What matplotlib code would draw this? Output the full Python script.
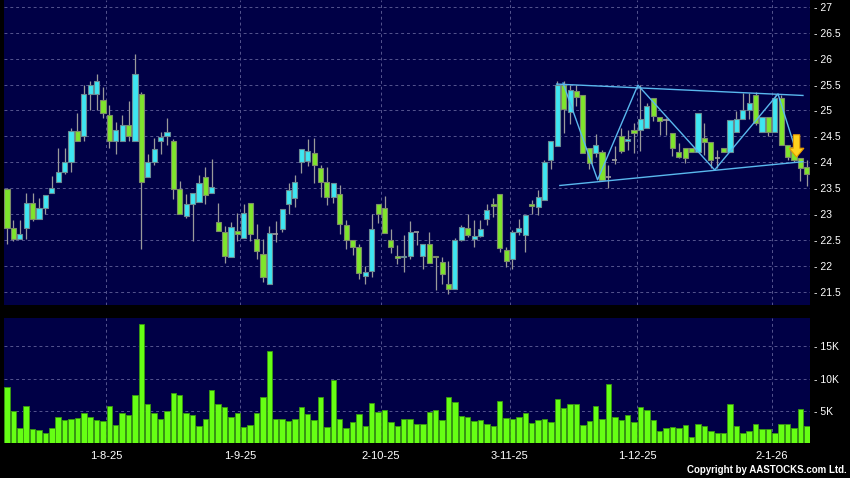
import numpy as np
import matplotlib
matplotlib.use('Agg')
import matplotlib.pyplot as plt
from matplotlib.patches import Polygon
from matplotlib.ticker import FuncFormatter

plt.rcParams['font.family'] = ['Liberation Sans', 'DejaVu Sans']

# daily OHLC
opens = [23.48, 22.72, 22.52, 22.72, 23.22, 22.91, 23.12, 23.41, 23.61, 23.82,
         24.00, 24.60, 24.51, 25.31, 25.31, 25.21, 24.91, 24.41, 24.41, 24.71,
         24.41, 25.32, 23.72, 24.00, 24.41, 24.51, 24.41, 23.48, 22.96, 23.20,
         23.24, 23.72, 23.40, 22.85, 22.66, 22.16, 22.67, 22.54, 23.22, 22.52,
         22.22, 21.65, 22.62, 22.70, 23.20, 23.30, 24.00, 24.02, 24.18, 23.88,
         23.62, 23.33, 23.39, 22.79, 22.49, 22.37, 21.80, 21.90, 23.20, 23.12,
         22.50, 22.18, 22.16, 22.19, 22.66, 22.19, 22.41, 22.19, 22.07, 21.64,
         21.54, 22.50, 22.72, 22.52, 22.58, 22.91, 23.20, 23.39, 22.31, 22.12,
         22.65, 22.59, 23.20, 23.13, 23.26, 24.05, 24.32, 25.50, 24.97, 25.37,
         25.29, 24.27, 24.17, 24.19, 23.72, 24.05, 24.50, 24.41, 24.63, 24.63,
         24.66, 25.24, 24.88, 24.82, 24.57, 24.20, 24.27, 24.27, 24.20, 24.46,
         24.40, 24.08, 24.27, 24.20, 24.59, 24.83, 25.01, 25.30, 24.59, 24.88,
         24.59, 25.24, 24.33, 24.30, 24.08, 23.90]
highs = [23.51, 22.88, 22.88, 23.41, 23.41, 23.31, 23.36, 23.73, 24.27, 24.27,
         24.67, 24.96, 25.50, 25.56, 25.71, 25.45, 25.10, 24.78, 24.91, 25.18,
         26.10, 25.35, 24.15, 24.46, 24.59, 24.86, 24.45, 23.64, 23.38, 23.41,
         23.75, 23.91, 24.06, 23.22, 22.77, 22.85, 23.02, 23.20, 23.22, 22.81,
         22.52, 22.77, 22.86, 23.10, 23.59, 23.75, 24.26, 24.44, 24.46, 23.94,
         23.90, 23.59, 23.55, 22.88, 22.49, 22.41, 22.00, 23.00, 23.20, 23.34,
         22.70, 22.40, 22.60, 22.86, 22.66, 22.41, 22.65, 22.19, 22.17, 22.10,
         22.54, 22.78, 23.00, 22.89, 22.89, 23.20, 23.30, 23.39, 22.36, 22.68,
         22.91, 22.97, 23.26, 23.47, 24.04, 24.41, 25.56, 25.56, 25.50, 25.50,
         25.29, 24.27, 24.55, 24.24, 23.95, 24.31, 24.66, 24.63, 24.76, 25.50,
         25.15, 25.24, 24.88, 24.85, 24.57, 24.37, 24.27, 24.27, 24.95, 24.75,
         24.40, 24.24, 24.27, 24.82, 24.98, 25.33, 25.33, 25.36, 24.88, 24.88,
         25.30, 25.30, 24.33, 24.53, 24.08, 24.04]
lows = [22.41, 22.47, 22.52, 22.52, 22.86, 22.91, 23.00, 23.41, 23.61, 23.77,
        23.82, 24.41, 24.41, 25.00, 25.00, 24.86, 24.27, 24.16, 24.41, 24.41,
        24.41, 22.32, 23.72, 23.95, 24.16, 24.33, 23.28, 23.00, 22.93, 22.47,
        23.24, 23.20, 23.40, 22.67, 22.06, 22.16, 22.47, 22.54, 22.47, 22.12,
        21.69, 21.65, 22.46, 22.65, 23.00, 23.13, 23.79, 23.92, 23.60, 23.33,
        23.17, 23.21, 22.62, 22.33, 22.20, 21.74, 21.64, 21.78, 22.83, 22.63,
        22.25, 22.04, 21.88, 22.12, 22.40, 21.94, 22.06, 21.53, 21.65, 21.45,
        21.54, 22.48, 22.55, 22.36, 22.55, 22.79, 22.94, 22.27, 21.98, 21.94,
        22.59, 22.27, 23.00, 22.97, 23.26, 23.86, 24.32, 24.57, 24.73, 25.08,
        24.17, 23.86, 24.10, 23.65, 23.50, 23.97, 24.18, 24.24, 24.18, 24.21,
        24.66, 24.79, 24.53, 24.53, 24.12, 24.08, 23.99, 24.20, 24.20, 24.14,
        23.88, 23.88, 24.20, 24.20, 24.59, 24.83, 24.83, 24.72, 24.59, 24.50,
        24.59, 24.33, 24.04, 24.01, 23.63, 23.54]
closes = [22.72, 22.52, 22.62, 23.22, 22.91, 23.12, 23.36, 23.51, 23.82, 24.00,
          24.60, 24.41, 25.31, 25.50, 25.56, 24.96, 24.41, 24.62, 24.71, 24.51,
          25.71, 23.62, 24.00, 24.26, 24.49, 24.59, 23.48, 23.00, 23.20, 23.41,
          23.59, 23.36, 23.53, 22.67, 22.18, 22.74, 22.62, 23.02, 22.61, 22.28,
          21.79, 22.64, 22.62, 23.10, 23.46, 23.62, 24.26, 24.22, 23.95, 23.62,
          23.33, 23.59, 22.81, 22.49, 22.36, 21.85, 21.88, 22.70, 23.00, 22.63,
          22.36, 22.15, 22.19, 22.65, 22.66, 22.41, 22.06, 22.16, 21.83, 21.54,
          22.50, 22.74, 22.60, 22.58, 22.70, 23.07, 23.15, 22.35, 22.10, 22.65,
          22.72, 22.97, 23.15, 23.33, 24.00, 24.41, 25.50, 25.03, 25.40, 25.26,
          24.17, 23.99, 24.33, 23.66, 23.72, 24.05, 24.21, 24.44, 24.57, 24.84,
          25.09, 24.90, 24.79, 24.82, 24.28, 24.11, 24.08, 24.20, 24.95, 24.40,
          24.04, 24.08, 24.20, 24.82, 24.83, 25.00, 25.15, 24.75, 24.88, 24.59,
          25.24, 24.33, 24.11, 24.04, 23.88, 23.77]

# volume in thousands
volume_k = [8.7, 4.9, 2.3, 5.8, 2.1, 2.0, 1.6, 2.3, 4.1, 3.6,
            3.8, 3.9, 4.7, 4.1, 3.6, 3.4, 5.8, 2.8, 4.6, 4.3,
            7.4, 18.5, 6.0, 4.7, 3.8, 4.9, 7.8, 7.4, 4.7, 4.3,
            2.7, 3.7, 8.2, 6.1, 5.6, 4.1, 4.7, 2.5, 2.8, 4.6,
            7.1, 14.3, 3.8, 3.7, 3.4, 3.7, 5.6, 4.5, 3.5, 7.1,
            2.5, 9.8, 3.8, 2.4, 3.2, 4.5, 2.6, 6.2, 4.8, 5.1,
            3.2, 2.6, 3.7, 3.7, 2.9, 2.9, 4.8, 5.1, 3.5, 7.1,
            6.4, 4.2, 4.0, 3.4, 3.5, 2.9, 2.7, 6.5, 3.9, 3.7,
            4.1, 4.7, 3.1, 3.5, 3.8, 3.2, 6.8, 5.5, 6.1, 6.1,
            2.8, 3.4, 5.7, 3.7, 9.1, 4.0, 3.5, 4.3, 3.2, 5.6,
            5.1, 3.6, 1.9, 2.3, 2.5, 2.4, 2.8, 1.0, 3.0, 2.7,
            1.9, 1.6, 1.6, 6.1, 2.6, 1.6, 1.8, 3.0, 2.2, 2.2,
            1.5, 2.9, 2.9, 2.4, 5.2, 2.7]

# month start markers (bar index) and labels
date_labels = ['1-8-25', '1-9-25', '2-10-25', '3-11-25', '1-12-25', '2-1-26']
date_pos = [15.5, 36.4, 58.4, 78.6, 98.5, 119.5]

# drawn pattern lines (bar index, price)
upper_x, upper_y = [85.9, 124.4], [25.51, 25.29]
lower_x, lower_y = [86.4, 124.4], [23.55, 24.01]
zigzag_x = [86.9, 92.3, 98.6, 110.6, 120.5, 123.1]
zigzag_y = [25.53, 23.66, 25.49, 23.85, 25.32, 24.30]

bg = '#000046'
grid_col = '#55558f'
cyan = '#3ee6f2'
green = '#7fe52c'

fig = plt.figure(figsize=(8.5, 4.78), dpi=100, facecolor='black')
ax1 = fig.add_axes([4/850, 1 - 305/478, 806/850, 305/478], facecolor=bg)
ax2 = fig.add_axes([4/850, 1 - 443/478, 806/850, 125/478], facecolor=bg)

o, h, l, c = map(np.array, (opens, highs, lows, closes))
x = np.arange(len(o))
up = c > o
dn = c < o
flat = c == o

# candles
ax1.vlines(x, l, h, color='#9a9a9a', lw=0.9, zorder=2)
ax1.bar(x[up], (c - o)[up], bottom=o[up], width=0.8, color=cyan,
        edgecolor='#6a8c94', lw=0.8, zorder=3)
ax1.bar(x[dn], (o - c)[dn], bottom=c[dn], width=0.8, color=green,
        edgecolor='#7d8c6a', lw=0.8, zorder=3)
ax1.hlines(o[flat], x[flat] - 0.4, x[flat] + 0.4, color='#a0a0a0', lw=1.2, zorder=3)

# pattern lines
line_col = '#5ab8ee'
ax1.plot(upper_x, upper_y, color=line_col, lw=1, zorder=4)
ax1.plot(lower_x, lower_y, color=line_col, lw=1, zorder=4)
ax1.plot(zigzag_x, zigzag_y, color=line_col, lw=1, zorder=4)

# down arrow signal
ax_x, top, base, tip = 123.4, 24.53, 24.27, 24.10
arrow = Polygon([(ax_x - 0.5, top), (ax_x + 0.5, top), (ax_x + 0.5, base),
                 (ax_x + 1.15, base), (ax_x, tip), (ax_x - 1.15, base),
                 (ax_x - 0.5, base)], closed=True, facecolor='#ffd21e',
                edgecolor='#e89a00', lw=0.8, zorder=5)
ax1.add_patch(arrow)

ax1.set_xlim(-0.47, 125.5)
ax1.set_ylim(21.24, 27.135)
ax1.set_yticks(np.arange(21.5, 27.01, 0.5))
ax1.yaxis.set_major_formatter(FuncFormatter(lambda v, p: f'- {v:g}'))
ax1.set_xticks(date_pos)
ax1.set_xticklabels([])

# volume
ax2.bar(x, np.array(volume_k) * 1000, width=0.85, color='#66ff14',
        edgecolor='#3a9a10', lw=0.6, zorder=3)
ax2.set_xlim(-0.47, 125.5)
ax2.set_ylim(0, 19400)
ax2.set_yticks([5000, 10000, 15000])
ax2.yaxis.set_major_formatter(FuncFormatter(lambda v, p: f'- {v/1000:g}K'))
ax2.set_xticks(date_pos)
ax2.set_xticklabels(date_labels)

for ax in (ax1, ax2):
    ax.grid(True, color=grid_col, ls=(0, (3, 3)), lw=0.7, zorder=0)
    ax.set_axisbelow(True)
    ax.yaxis.tick_right()
    ax.tick_params(axis='y', length=0, pad=3, labelcolor='white', labelsize=7.5)
    ax.tick_params(axis='x', length=0, pad=6, labelcolor='white', labelsize=8)
    for s in ax.spines.values():
        s.set_visible(False)

fig.text(0.9965, 0.006, 'Copyright by AASTOCKS.com Ltd.', ha='right', va='bottom',
         color='white', fontsize=7, fontweight='bold')

fig.savefig('out.png', dpi=100, facecolor='black')
